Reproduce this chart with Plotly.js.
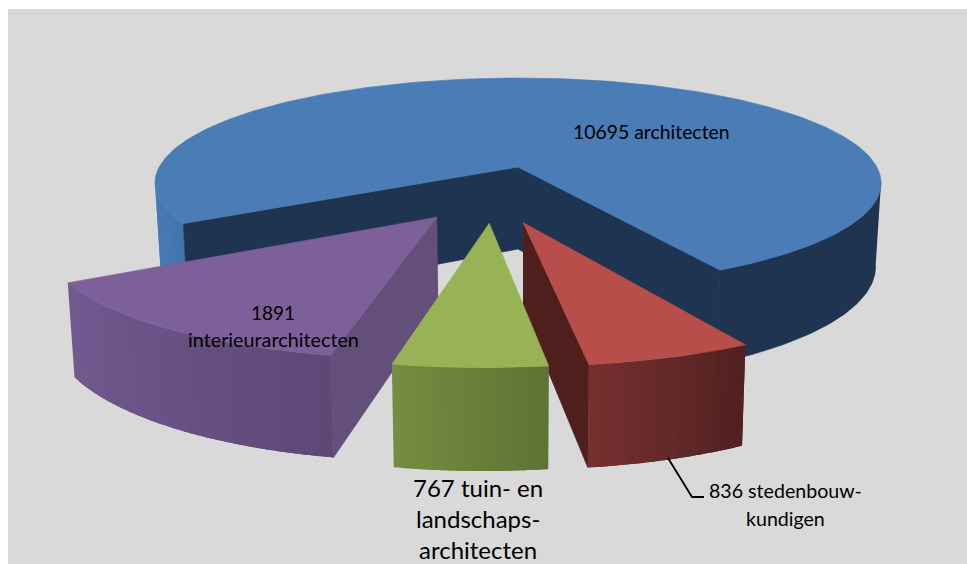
<!DOCTYPE html>
<html>
<head>
<meta charset="utf-8">
<script src="https://cdn.plot.ly/plotly-3.0.1.min.js"></script>
<style>html,body{margin:0;padding:0;background:#fff;overflow:hidden}</style>
</head>
<body>
<div id="chart" style="width:967px;height:564px"></div>
<script>
// --- data ---
const categories = ["architecten", "stedenbouwkundigen", "tuin- en landschapsarchitecten", "interieurarchitecten"];
const values = [10695, 836, 767, 1891];
const labelLines = [
  ["10695 architecten"],
  ["836 stedenbouw-", "kundigen"],
  ["767 tuin- en", "landschaps-", "architecten"],
  ["1891", "interieurarchitecten"]
];

// --- styling and placement ---
const topColors  = ["#4a7cb6", "#b84e4a", "#97b356", "#7d5f9a"];
const wallColors = ["#1f3450", "#4f1f1e", null, "#644f7b"];
const rimFrom    = ["#1f3450", "#762f2f", "#758c41", "#5f4877"];
const rimTo      = ["#1f3450", "#512120", "#5f7334", "#725a90"];
const apexOffset = [[0, 0], [0.013, 0.5], [-0.074, 0.508], [-0.21, 0.456]];
const labelPlace = [
  [[651.5, 131]],
  [[785, 490], [785, 518]],
  [[478, 487], [478, 518], [478, 549]],
  [[273, 312], [273, 339]]
];
const labelSize = [[19.4], [19.6, 19.6], [24, 24, 24], [19, 19.8]];
const leaderX = [668, 692, 704], leaderY = [458, 497, 497];
const cam = {cx: 518, cy: 167, a: 358.8, k: 102.5, p: 0.152, shrink: 0.985, h: 72, h0: 10};
const startAngle = 149.4;

function project(X, Y, bottom) {
  const s = 1 / (1 - cam.p * Y);
  let x = cam.a * X * s, y = cam.k * Y * s;
  if (bottom) { x *= cam.shrink; y += cam.h * s + cam.h0; }
  return [cam.cx + x, cam.cy + y];
}
const rad = d => d * Math.PI / 180;
const silhouette = Math.asin(cam.p) * 180 / Math.PI;
const total = values.reduce((a, b) => a + b, 0);
let acc = startAngle;
const spans = values.map(v => { const s = [acc, acc + v / total * 360]; acc = s[1]; return s; });

function hex(c) { return [1, 3, 5].map(i => parseInt(c.substr(i, 2), 16)); }
function mix(a, b, t) {
  const A = hex(a), B = hex(b);
  return "rgb(" + A.map((v, i) => Math.round(v + (B[i] - v) * t)).join(",") + ")";
}
const traces = [];
function poly(pts, color, bare) {
  traces.push({
    type: "scatter", mode: bare ? "none" : "lines", x: pts.map(p => p[0]), y: pts.map(p => p[1]),
    fill: "toself", fillcolor: color, line: {color: color, width: 0.7},
    hoverinfo: "skip", showlegend: false
  });
}
function edge(i, ang, bottom) {
  const [ox, oy] = apexOffset[i];
  return project(ox + Math.cos(rad(ang)), oy + Math.sin(rad(ang)), bottom);
}
function apex(i, bottom) { return project(apexOffset[i][0], apexOffset[i][1], bottom); }
// the side of a slice: bands painted in order, each running under the next so no seam shows
function rimFace(i, a0, a1, c0, c1, n) {
  const sub = 6;
  for (let j = 0; j < n; j++) {
    const u = a0 + (a1 - a0) * j / n;
    const v = a0 + (a1 - a0) * Math.min(j + 2, n) / n;
    const upper = [], lower = [];
    for (let m = 0; m <= sub; m++) {
      const a = u + (v - u) * m / sub;
      upper.push(edge(i, a, false));
      lower.unshift(edge(i, a, true));
    }
    poly(upper.concat(lower), mix(c0, c1, n > 1 ? j / (n - 1) : 0), true);
  }
}
function wallFace(i, ang) {
  poly([apex(i, false), edge(i, ang, false), edge(i, ang, true), apex(i, true)], wallColors[i]);
}
function topFace(i) {
  const [a0, a1] = spans[i], pts = [apex(i, false)], n = 240;
  for (let j = 0; j <= n; j++) pts.push(edge(i, a0 + (a1 - a0) * j / n, false));
  pts.push(apex(i, false));
  poly(pts, topColors[i]);
}

// big slice
(function () {
  const right = [];
  const n = 60, a0 = 360 + silhouette, a1 = spans[0][1];
  for (let j = 0; j <= n; j++) right.push(edge(0, a0 + (a1 - a0) * j / n, false));
  for (let j = n; j >= 0; j--) right.push(edge(0, a0 + (a1 - a0) * j / n, true));
  poly(right, rimFrom[0]);
})();
rimFace(0, spans[0][0], 180 - silhouette, "#4275ad", "#4a7cb6", 10);
wallFace(0, spans[0][0]);
wallFace(0, spans[0][1]);
topFace(0);
// interior slice
rimFace(3, spans[3][1], spans[3][0], rimTo[3], rimFrom[3], 30);
wallFace(3, spans[3][0]);
topFace(3);
// urban planners
wallFace(1, spans[1][1]);
rimFace(1, spans[1][1], spans[1][0], rimFrom[1], rimTo[1], 20);
topFace(1);
// landscape
rimFace(2, spans[2][1], spans[2][0], rimFrom[2], rimTo[2], 20);
topFace(2);
// leader line
traces.push({type: "scatter", mode: "lines", x: leaderX, y: leaderY,
  line: {color: "#000", width: 1.8}, hoverinfo: "skip", showlegend: false});

const annotations = [];
labelLines.forEach((lines, i) => lines.forEach((t, j) => annotations.push({
  x: labelPlace[i][j][0], y: labelPlace[i][j][1], xref: "x", yref: "y",
  text: t, showarrow: false, xanchor: "center", yanchor: "middle",
  font: {family: "Lato, sans-serif", size: labelSize[i][j], color: "#000"}
})));

Plotly.newPlot("chart", traces, {
  width: 967, height: 564,
  margin: {l: 8, r: 0, t: 9, b: 0, pad: 0},
  paper_bgcolor: "#ffffff", plot_bgcolor: "#d9d9d9",
  showlegend: false, hovermode: false,
  xaxis: {range: [8, 967], visible: false, fixedrange: true},
  yaxis: {range: [564, 9], visible: false, fixedrange: true},
  annotations: annotations
}, {displayModeBar: false, staticPlot: true});
</script>
</body>
</html>
